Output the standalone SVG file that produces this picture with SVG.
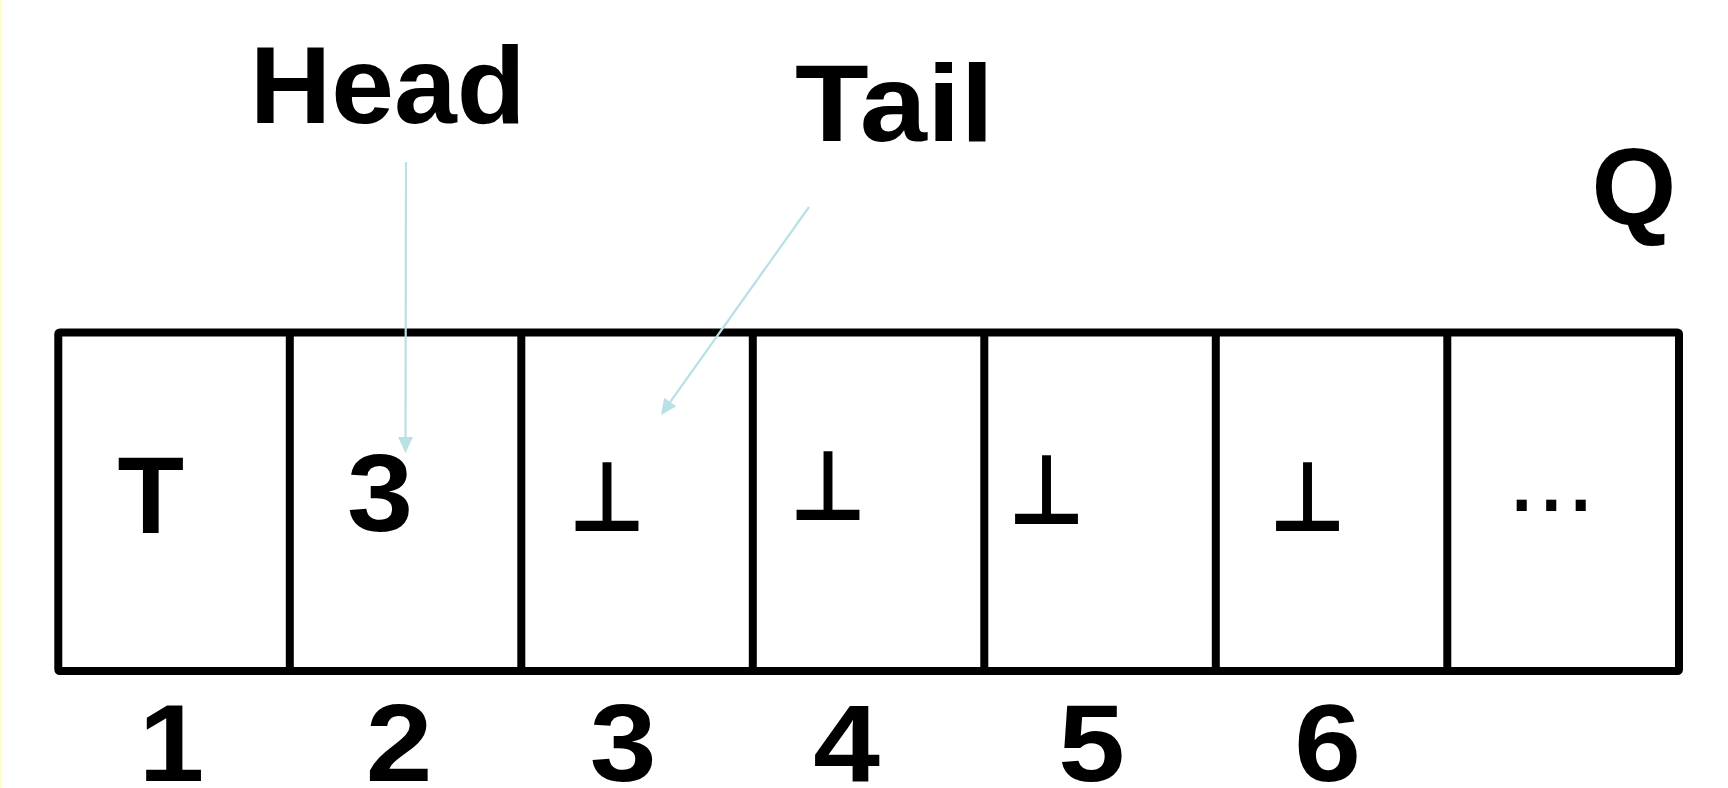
<svg xmlns="http://www.w3.org/2000/svg" width="1728" height="788" viewBox="0 0 1728 788">
  <style>
    .lbl { font-family: "Liberation Sans", Arial, sans-serif; font-weight: bold; font-size: 109px; fill: #000; }
    .num { font-family: "Liberation Sans", Arial, sans-serif; font-weight: bold; font-size: 109px; fill: #000; text-anchor: middle; }
    .tack { font-family: "DejaVu Sans", sans-serif; font-weight: bold; font-size: 92px; fill: #000; text-anchor: middle; }
    .dots { font-family: "Liberation Sans", Arial, sans-serif; font-size: 106px; fill: #000; }
    .cell { fill: #fff; stroke: #000; stroke-width: 8; }
    .div { stroke: #000; stroke-width: 8; }
    .conn { stroke: #b9e0e5; stroke-width: 2.2; fill: none; }
  </style>
  <defs>
    <marker id="ah" markerUnits="userSpaceOnUse" markerWidth="16" markerHeight="16" refX="4" refY="7.5" orient="auto">
      <path d="M0,0 L16,7.5 L0,15 z" fill="#b9e0e5"/>
    </marker>
  </defs>
  <rect x="0" y="0" width="1728" height="788" fill="#fff"/>
  <rect x="0" y="0" width="2" height="788" fill="#ffffc8"/>

  <g id="array">
    <rect class="cell" x="58.3" y="332.5" width="1620.7" height="338.5" rx="1.5"/>
    <line class="div" x1="289.8" y1="332.5" x2="289.8" y2="671"/>
    <line class="div" x1="521.3" y1="332.5" x2="521.3" y2="671"/>
    <line class="div" x1="752.8" y1="332.5" x2="752.8" y2="671"/>
    <line class="div" x1="984.3" y1="332.5" x2="984.3" y2="671"/>
    <line class="div" x1="1215.8" y1="332.5" x2="1215.8" y2="671"/>
    <line class="div" x1="1447.3" y1="332.5" x2="1447.3" y2="671"/>
  </g>

  <g id="cell1"><text class="num" x="150.7" y="533">T</text></g>
  <g id="cell2"><text class="num" transform="translate(380,531) scale(1.09,1)">3</text></g>
  <g id="cell3"><text class="tack" transform="translate(607,531) scale(0.92,1.06)">⊥</text></g>
  <g id="cell4"><text class="tack" transform="translate(828,520) scale(0.92,1.06)">⊥</text></g>
  <g id="cell5"><text class="tack" transform="translate(1046.5,524) scale(0.92,1.06)">⊥</text></g>
  <g id="cell6"><text class="tack" transform="translate(1307.5,531) scale(0.92,1.06)">⊥</text></g>
  <g id="cell7"><text class="dots" x="1507" y="511">...</text></g>

  <g id="head"><text class="lbl" x="249.7" y="123" textLength="276" lengthAdjust="spacingAndGlyphs">Head</text></g>
  <g id="tail"><text class="lbl" x="795" y="141" textLength="199" lengthAdjust="spacingAndGlyphs">Tail</text></g>
  <g id="q"><text class="num" x="1634" y="224">Q</text></g>

  <g id="indices">
    <text class="num" transform="translate(171.5,781) scale(1.08,1)">1</text>
    <text class="num" transform="translate(399,781) scale(1.1,1)">2</text>
    <text class="num" transform="translate(623,781) scale(1.1,1)">3</text>
    <text class="num" transform="translate(846.5,781) scale(1.1,1)">4</text>
    <text class="num" transform="translate(1091.6,781) scale(1.1,1)">5</text>
    <text class="num" transform="translate(1327.5,781) scale(1.1,1)">6</text>
  </g>

  <g id="connectors">
    <line class="conn" x1="406" y1="162" x2="405.5" y2="441" marker-end="url(#ah)"/>
    <line class="conn" x1="809" y1="207" x2="667.96" y2="405.22" marker-end="url(#ah)"/>
  </g>
</svg>
